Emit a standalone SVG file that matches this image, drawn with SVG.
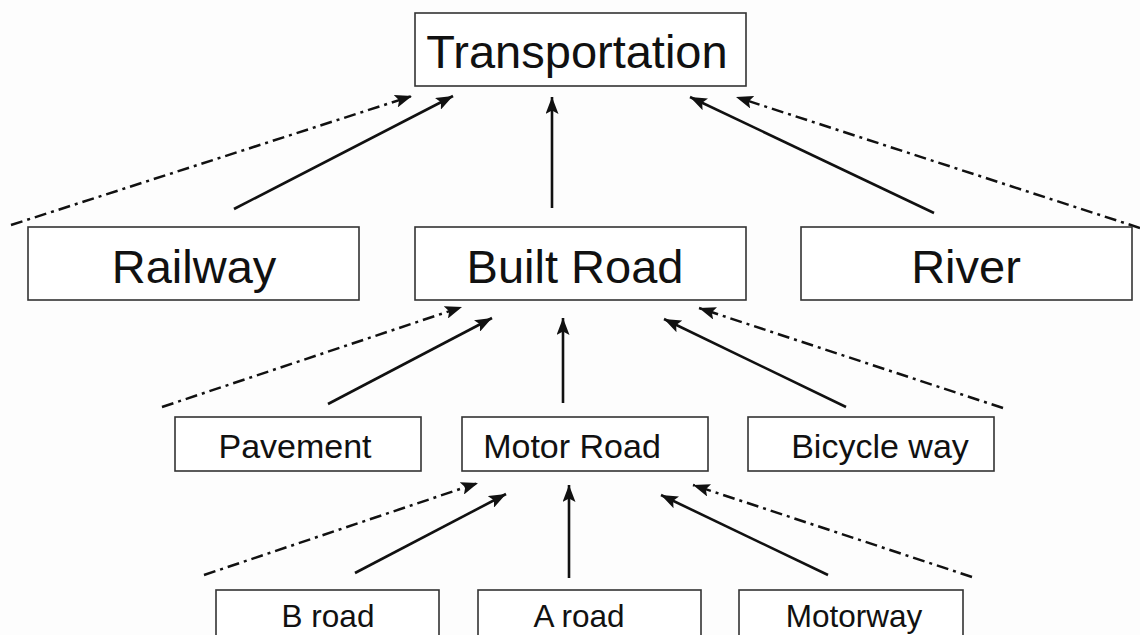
<svg xmlns="http://www.w3.org/2000/svg" width="1140" height="635" viewBox="0 0 1140 635">
<defs>
<marker id="ah" viewBox="0 0 17 13" refX="17" refY="6.5" markerWidth="17" markerHeight="13" markerUnits="userSpaceOnUse" orient="auto">
<path d="M0,0 L17,6.5 L0,13 L3.5,6.5 z" fill="#111"/>
</marker>
<style>
.box{fill:#fff;stroke:#333;stroke-width:1.6}
.t{font-family:"Liberation Sans",Arial,sans-serif;fill:#111;text-anchor:middle}
.l{font-size:47px}
.m{font-size:34px}
.s{font-size:31.5px}
.sol{stroke:#111;stroke-width:2.6;fill:none;marker-end:url(#ah)}
.dd{stroke:#111;stroke-width:2.5;fill:none;stroke-dasharray:12 5 3 5;marker-end:url(#ah)}
</style>
</defs>
<rect width="1140" height="635" fill="#fdfdfd"/>
<g id="connectors">
<line class="dd" x1="11" y1="225" x2="412" y2="96"/>
<line class="sol" x1="234" y1="209" x2="453" y2="96"/>
<line class="sol" x1="552" y1="208" x2="552" y2="97"/>
<line class="sol" x1="934" y1="213" x2="690" y2="97"/>
<line class="dd" x1="1140" y1="228" x2="736" y2="97"/>
<line class="dd" x1="162" y1="407" x2="462" y2="307"/>
<line class="sol" x1="328" y1="404" x2="492" y2="318"/>
<line class="sol" x1="563" y1="403" x2="563" y2="318"/>
<line class="sol" x1="846" y1="407" x2="664" y2="319"/>
<line class="dd" x1="1003" y1="408" x2="699" y2="308"/>
<line class="dd" x1="204" y1="575" x2="478" y2="483"/>
<line class="sol" x1="355" y1="573" x2="506" y2="494"/>
<line class="sol" x1="569" y1="578" x2="569" y2="485"/>
<line class="sol" x1="828" y1="575" x2="661" y2="495"/>
<line class="dd" x1="972" y1="577" x2="693" y2="485"/>
</g>
<g id="transportation"><rect class="box" x="415" y="13" width="331" height="73"/><text class="t l" x="577" y="68">Transportation</text></g>
<g id="railway"><rect class="box" x="28" y="227" width="331" height="73"/><text class="t l" x="194" y="283">Railway</text></g>
<g id="built-road"><rect class="box" x="415" y="227" width="331" height="73"/><text class="t l" x="575" y="283">Built Road</text></g>
<g id="river"><rect class="box" x="801" y="227" width="331" height="73"/><text class="t l" x="966" y="283">River</text></g>
<g id="pavement"><rect class="box" x="175" y="417" width="246" height="54"/><text class="t m" x="295" y="458">Pavement</text></g>
<g id="motor-road"><rect class="box" x="462" y="417" width="246" height="54"/><text class="t m" x="572" y="458">Motor Road</text></g>
<g id="bicycle-way"><rect class="box" x="748" y="417" width="246" height="54"/><text class="t m" x="880" y="458">Bicycle way</text></g>
<g id="b-road"><rect class="box" x="216" y="590" width="223" height="60"/><text class="t s" x="328" y="627">B road</text></g>
<g id="a-road"><rect class="box" x="478" y="590" width="223" height="60"/><text class="t s" x="579" y="627">A road</text></g>
<g id="motorway"><rect class="box" x="739" y="590" width="224" height="60"/><text class="t s" x="854" y="627">Motorway</text></g>
</svg>
